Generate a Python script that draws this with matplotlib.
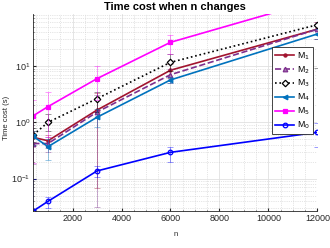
import matplotlib.pyplot as plt
import numpy as np

plt.rcParams["font.family"] = ["Liberation Sans", "DejaVu Sans"]

# problem sizes
n = [400, 1000, 3000, 6000, 12000]

# mean time cost (s) per method
m1 = [0.54, 0.47, 1.65, 8.4, 45]
m2 = [0.42, 0.42, 1.52, 7.0, 45]
m3 = [0.60, 1.0, 2.63, 11.6, 54]
m4 = [0.56, 0.37, 1.23, 5.65, 37]
m5 = [1.31, 1.90, 5.96, 26.3, 148]
m0 = [0.0267, 0.0396, 0.137, 0.293, 0.664]

# error bar ranges (low, high)
m1_lo = [0.40, 0.35, 0.068, 6.0, 30]
m1_hi = [0.70, 0.60, 3.3, 11.0, 60]
m2_lo = [0.18, 0.30, 0.032, 5.0, 30]
m2_hi = [0.60, 0.55, 3.0, 9.0, 60]
m3_lo = [0.45, 0.70, 1.5, 8.0, 9.1]
m3_hi = [0.80, 1.40, 3.5, 16.0, 90]
m4_lo = [0.40, 0.21, 0.82, 4.9, 29.7]
m4_hi = [0.70, 0.50, 1.7, 6.5, 45]
m5_lo = [0.19, 0.55, 2.5, 16.3, 100]
m5_hi = [2.5, 3.5, 10.1, 35.5, 200]
m0_lo = [0.02, 0.0297, 0.108, 0.20, 0.37]
m0_hi = [0.10, 0.048, 0.17, 0.37, 0.98]

series = [
    ("M$_1$", m1, m1_lo, m1_hi, "#A2142F", "-", ".", "#A2142F"),
    ("M$_2$", m2, m2_lo, m2_hi, "#7E2F8E", "--", "^", "#A77BB2"),
    ("M$_3$", m3, m3_lo, m3_hi, "black", ":", "D", "white"),
    ("M$_4$", m4, m4_lo, m4_hi, "#0072BD", "-", "<", "#0072BD"),
    ("M$_5$", m5, m5_lo, m5_hi, "#FF00FF", "-", "s", "#FF00FF"),
    ("M$_0$", m0, m0_lo, m0_hi, "#0000FF", "-", "o", "none"),
]

fig = plt.figure(figsize=(3.3, 2.48), dpi=100)
ax = fig.add_axes([0.101, 0.149, 0.861, 0.795])

for label, y, lo, hi, c, ls, mk, mfc in series:
    y = np.array(y)
    err = [y - np.array(lo), np.array(hi) - y]
    ax.errorbar(n, y, yerr=err, fmt="none", ecolor=c, alpha=0.4,
                elinewidth=0.7, capsize=2, capthick=0.7)
    ax.plot(n, y, color=c, ls=ls, lw=1.2, marker=mk, mfc=mfc, mec=c,
            ms=3.3 if mk != "." else 4.5, mew=0.9, label=label)

ax.set_yscale("log")
ax.set_xlim(400, 12000)
ax.set_ylim(0.0266, 84)
ax.set_xticks([2000, 4000, 6000, 8000, 10000, 12000])

ax.grid(True, which="major", color="#e0e0e0", lw=0.6)
ax.grid(True, which="minor", color="#cccccc", lw=0.5, ls=":")
ax.xaxis.set_minor_locator(plt.MultipleLocator(500))
ax.tick_params(which="both", direction="in", labelsize=6.5, colors="#262626",
               length=2, pad=2)
ax.tick_params(which="minor", length=1, labelbottom=False)
for s in ["top", "right"]:
    ax.spines[s].set_visible(False)
for s in ["left", "bottom"]:
    ax.spines[s].set_color("#262626")
    ax.spines[s].set_linewidth(0.6)

ax.set_title("Time cost when n changes", fontsize=8, fontweight="bold", pad=2.5)
ax.set_xlabel("n", fontsize=5.5, color="#262626")
ax.xaxis.set_label_coords(0.5, -0.1)
ax.set_ylabel("Time cost (s)", fontsize=5.5, color="#262626")
ax.yaxis.set_label_coords(-0.082, 0.47)

leg = ax.legend(loc="upper right", bbox_to_anchor=(0.985, 0.832), fontsize=6.3,
                fancybox=False, edgecolor="#262626", handlelength=2.1,
                labelspacing=0.28, borderpad=0.35, handletextpad=0.4,
                borderaxespad=0, framealpha=1)
leg.get_frame().set_linewidth(0.6)

fig.savefig("out.png", dpi=100)
